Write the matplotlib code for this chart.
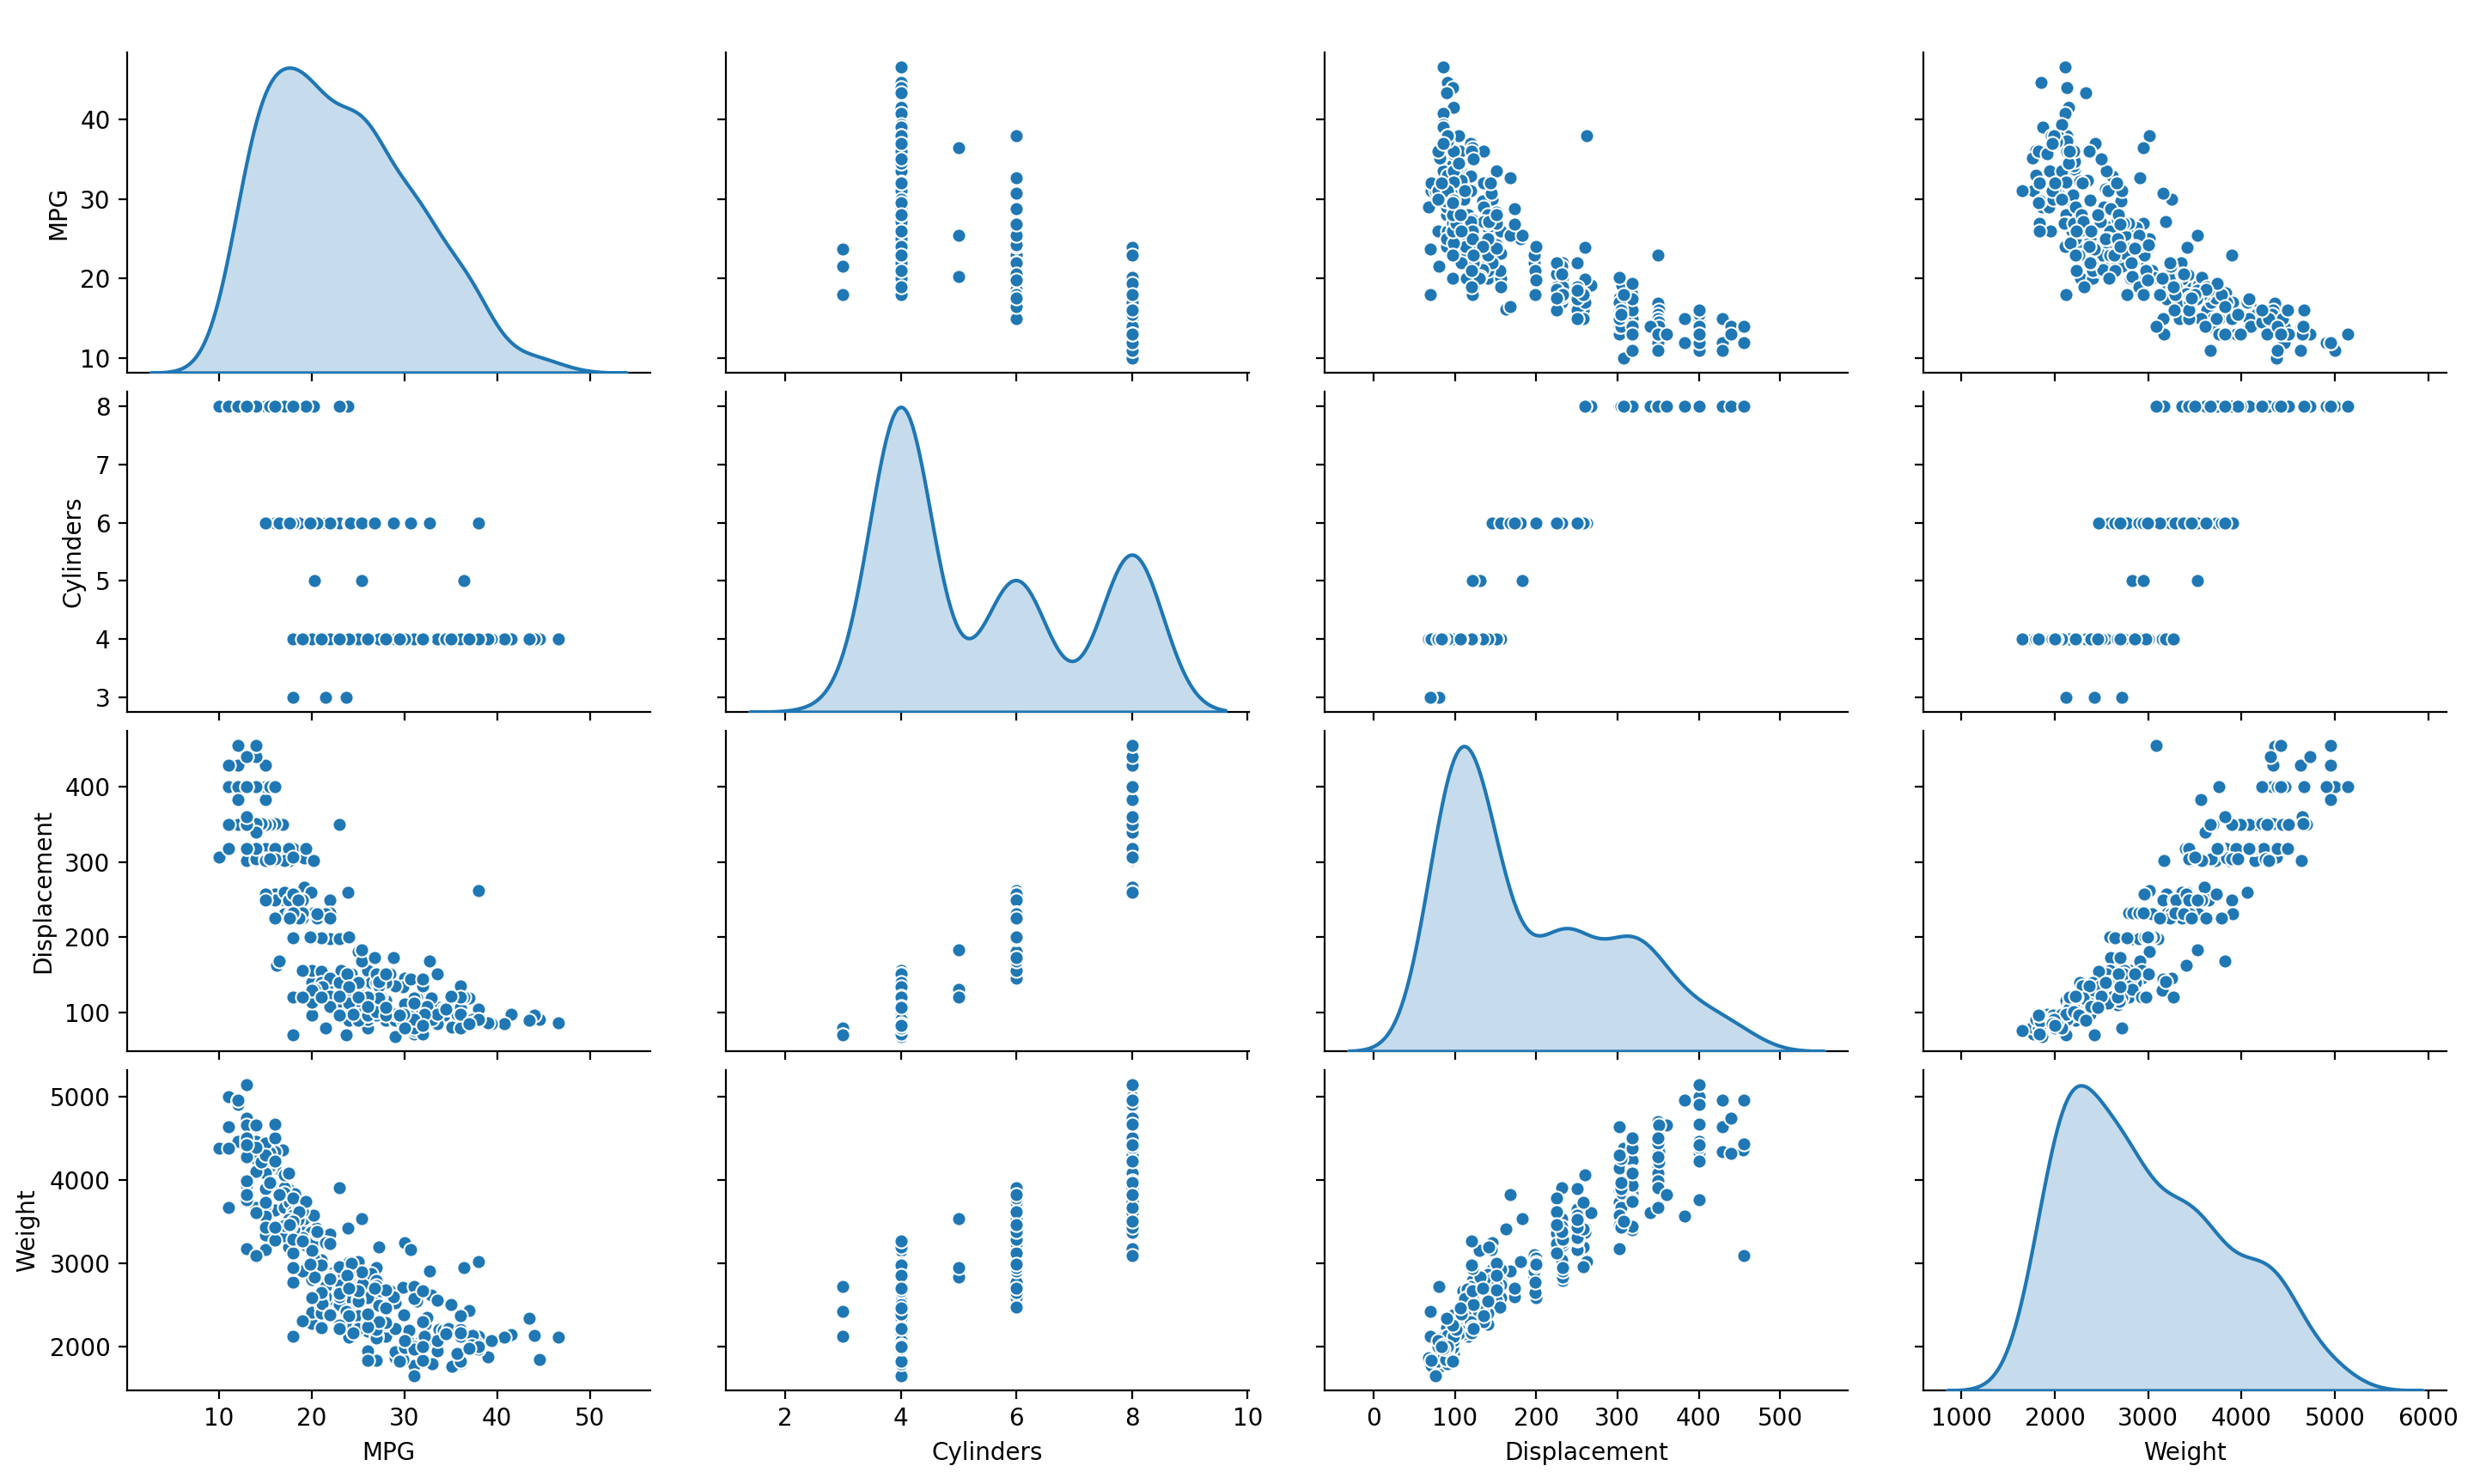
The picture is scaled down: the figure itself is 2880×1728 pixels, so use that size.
import matplotlib
matplotlib.use("Agg")
import matplotlib.pyplot as plt
import pandas as pd
import seaborn as sns

mpg = [18,15,18,16,17,15,14,14,14,15,15,14,15,14,24,22,18,21,27,26,25,24,25,26,21,10,10,11,9,27,28,25,19,16,17,19,18,14,14,14,14,12,13,13,18,22,19,18,23,28,30,30,31,35,27,26,24,25,23,20,21,13,14,15,14,17,11,13,12,13,19,15,13,13,14,18,22,21,26,22,28,23,28,27,13,14,13,14,15,12,13,13,14,13,12,13,18,16,18,18,23,26,11,12,13,12,18,20,21,22,18,19,21,26,15,16,29,24,20,19,15,24,20,11,20,19,15,31,26,32,25,16,16,18,16,13,14,14,14,29,26,26,31,32,28,24,26,24,26,31,19,18,15,15,16,15,16,14,17,16,15,18,21,20,13,29,23,20,23,24,25,24,18,29,19,23,23,22,25,33,28,25,25,26,27,17.5,16,15.5,14.5,22,22,24,22.5,29,24.5,29,33,20,18,18.5,17.5,29.5,32,28,26.5,20,13,19,19,16.5,16.5,13,13,13,31.5,30,36,25.5,33.5,17.5,17,15.5,15,17.5,20.5,19,18.5,16,15.5,15.5,16,29,24.5,26,25.5,30.5,33.5,30,30.5,22,21.5,21.5,43.1,36.1,32.8,39.4,36.1,19.9,19.4,20.2,19.2,20.5,20.2,25.1,20.5,19.4,20.6,20.8,18.6,18.1,19.2,17.7,18.1,17.5,30,27.5,27.2,30.9,21.1,23.2,23.8,23.9,20.3,17,21.6,16.2,31.5,29.5,21.5,19.8,22.3,20.2,20.6,17,17.6,16.5,18.2,16.9,15.5,19.2,18.5,31.9,34.1,35.7,27.4,25.4,23,27.2,23.9,34.2,34.5,31.8,37.3,28.4,28.8,26.8,33.5,41.5,38.1,32.1,37.2,28,26.4,24.3,19.1,34.3,29.8,31.3,37,32.2,46.6,27.9,40.8,44.3,43.4,36.4,30,44.6,33.8,29.8,32.7,23.7,35,32.4,27.2,26.6,25.8,23.5,30,39.1,39,35.1,32.3,37,37.7,34.1,34.7,34.4,29.9,33,33.7,32.4,32.9,31.6,28.1,30.7,25.4,24.2,22.4,26.6,20.2,17.6,28,27,34,31,29,27,24,36,37,31,38,36,36,36,34,38,32,38,25,38,26,22,32,36,27,27,44,32,28,31]
cylinders = [8,8,8,8,8,8,8,8,8,8, 8,8,8,8,4,6,6,6,4,4, 4,4,4,4,6,8,8,8,8,4, 4,4,6,6,6,6,6,8,8,8, 8,8,8,8,6,4,6,6,4,4, 4,4,4,4,4,4,4,4,4,4, 4,8,8,8,8,8,8,8,8,8, 3,8,8,8,8,4,4,4,4,4, 4,4,4,4,8,8,8,8,8,8, 8,8,8,8,8,8,6,6,6,6, 6,4,8,8,8,8,6,4,4,4, 3,4,6,4,8,8,4,4,4,4, 8,4,6,8,6,6,6,4,4,4, 4,6,6,6,8,8,8,8,8,4, 4,4,4,4,4,4,4,4,4,4, 6,6,6,6,8,8,8,8,6,6, 6,6,6,8,8,4,4,6,4,4, 4,4,6,4,6,4,4,4,4,4, 4,4,4,4,4,8,8,8,8,6, 6,6,6,4,4,4,4,6,6,6, 6,4,4,4,4,4,8,4,6,6, 8,8,8,8,4,4,4,4,4,8, 8,8,8,6,6,6,6,8,8,8, 8,4,4,4,4,4,4,4,4,6, 4,3,4,4,4,4,4,8,8,8, 6,6,6,4,6,6,6,6,6,6, 8,6,8,8,4,4,4,4,4,4, 4,4,5,6,4,6,4,4,6,6, 4,6,6,8,8,8,8,8,8,8, 8,4,4,4,4,5,8,4,8,4, 4,4,4,4,6,6,4,4,4,4, 4,4,4,4,6,4,4,4,4,4, 4,4,4,4,4,5,4,4,4,4, 6,3,4,4,4,4,4,6,4,4, 4,4,4,4,4,4,4,4,4,4, 4,4,4,4,4,6,6,6,6,8, 6,6,4,4,4,4,4,4,4,4, 4,4,4,4,4,4,4,4,4,4, 6,6,4,6,4,4,4,4,4,4,4,4]
displacement = [307,350,318,304,302,429,454,440,455,390,383,340,400,455,113,198,199,200,97,97,110,107,104,121,199,360,307,318,304,97,140,113,232,225,250,250,232,350,400,351,318,383,400,400,258,140,250,250,122,116,79,88,71,72,97,91,113,97.5,97,140,122,350,400,318,351,304,429,350,350,400,70,304,307,302,318,121,121,120,96,122,97,120,98,97,350,304,350,302,318,429,400,351,318,440,455,360,225,250,232,250,198,97,400,400,360,350,232,97,140,108,70,122,155,98,350,400,68,116,114,121,318,121,156,350,198,232,250,79,122,71,140,250,258,225,302,350,318,302,304,98,79,97,76,83,90,90,116,120,108,79,225,250,250,250,400,350,318,351,231,250,258,225,231,262,302,97,140,232,140,134,90,119,171,90,232,115,120,121,121,91,107,116,140,98,101,305,318,304,351,225,250,200,232,85,98,90,91,225,250,250,258,97,85,97,140,130,318,120,156,168,350,350,302,318,98,111,79,122,85,305,260,318,302,250,231,225,250,400,350,400,351,97,151,97,140,98,98,97,97,146,121,80,90,98,78,85,91,260,318,302,231,200,200,140,225,232,231,200,225,258,305,231,302,318,98,134,119,105,134,156,151,119,131,163,121,163,89,98,231,200,140,232,225,305,302,351,318,350,351,267,360,89,86,98,121,183,350,141,260,105,105,85,91,151,173,173,151,98,89,98,86,151,140,151,225,97,134,120,119,108,86,156,85,90,90,121,146,91,97,89,168,70,122,107,135,151,156,173,135,79,86,81,97,85,89,91,105,98,98,105,107,108,119,120,141,145,168,146,231,350,200,225,112,112,112,112,135,151,140,105,91,91,105,98,120,107,108,91,91,91,181,262,156,232,144,135,151,140,97,135,120,119]
weight = [3504,3693,3436,3433,3449,4341,4354,4312,4425,3850,3563,3609,3761,3086,2372,2833,2774,2587,2130,1835,2672,2430,2375,2234,2648,4615,4376,4382,4732,2130,2264,2228,2634,3439,3329,3302,3288,4209,4464,4154,4096,4955,4746,5140,2962,2408,3282,3139,2220,2123,2074,2065,1773,1613,1834,1955,2278,2126,2254,2408,2226,4274,4385,4135,4129,3672,4633,4502,4456,4422,2330,3892,4098,4294,4077,2933,2511,2979,2189,2395,2288,2506,2164,2100,4100,3672,3988,4042,3777,4952,4464,4363,4237,4735,4951,3821,3121,3278,2945,3021,2904,1950,4997,4906,4654,4499,2789,2279,2401,2379,2124,2310,2472,2265,4082,4278,1867,2158,2582,2868,3399,2660,2807,3664,3102,2901,3336,1950,2451,1836,2542,3781,3632,3613,4141,4699,4457,4638,4257,2219,1963,2300,1649,2003,2125,2108,2246,2489,2391,2000,3264,3459,3432,3158,4668,4440,4498,4657,3907,3897,3730,3785,3039,3221,3169,2171,2639,2914,2592,2702,2223,2545,2984,1937,3211,2694,2957,2945,2671,1795,2464,2220,2572,2255,2202,4215,4190,3962,4215,3233,3353,3012,3085,2035,2164,1937,1795,3651,3574,3645,3193,1825,1990,2155,2565,3150,3940,3270,2930,3820,4380,4055,3870,3755,2045,2155,1825,2300,1945,3880,4060,4140,4295,3520,3425,3630,3525,4220,4165,4325,4335,1940,2740,2265,2755,2051,2075,1985,2190,2815,2600,2720,1985,1800,1985,2070,1800,3365,3735,3570,3535,3155,2965,2720,3430,3210,3380,3070,3620,3410,3425,3445,3205,4080,2155,2560,2300,2230,2515,2745,2855,2405,2830,3140,2795,3410,1990,2135,3245,2990,2890,3265,3360,3840,3725,3955,3830,4360,4054,3605,3940,1925,1975,1915,2670,3530,3900,3190,3420,2200,2150,2020,2130,2670,2595,2700,2556,2144,1968,2120,2019,2678,2870,3003,3381,2188,2711,2542,2434,2265,2110,2800,2110,2085,2335,2950,3250,1850,2145,1845,2910,2420,2500,2290,2490,2635,2620,2725,2385,1755,1875,1760,2065,1975,2050,1985,2215,2045,2380,2190,2210,2350,2615,2635,3230,3160,2900,2930,3415,3725,3060,3465,2605,2640,2395,2575,2525,2735,2865,1980,2025,1970,2125,2125,2160,2205,2245,1965,1965,1995,3015,3015,2585,2835,2665,2370,2950,2790,2130,2295,2625,2720]

# Rows that appear in the chart, in drawing order
train_rows = [144,280,68,372,328,255,308,326,124,107,54,210,232,102,287,350,274,74,113,303,164,132,59,380,307,37,336,253,167,65,122,353,76,140,162,316,52,90,186,6,1,327,317,134,231,230,366,135,219,106,146,10,26,45,315,355,360,190,179,60,15,145,276,5,78,159,7,363,20,322,246,264,284,221,100,64,55,260,214,218,254,299,191,56,8,298,171,352,301,241,234,63,240,150,381,81,341,176,142,245,89,170,21,204,346,304,49,286,388,92,228,216,217,289,382,22,386,200,391,158,141,342,66,224,212,12,101,306,340,319,17,153,175,30,114,312,103,357,229,168,116,387,120,173,112,294,136,269,126,155,293,275,133,33,370,34,199,97,85,247,181,283,383,215,356,108,46,375,250,281,73,137,373,252,196,29,282,351,51,329,344,27,2,318,156,198,368,206,138,220,239,268,272,223,35,259,249,24,261,44,225,129,93,111,166,271,325,40,18,278,79,233,235,71,13,331,213,377,330,160,104,161,83,189,389,118,238,188,208,367,110,149,157,152,16,263,75,109,320,205,334,139,237,385,4,96,14,61,236,67,313,248,194,154,365,302,19,226,300,3,309,125,77,184,295,371,384,182,348,80,258,11,297,86,266,36,374,58,41,270,50,209,311,310,324,123,222,62,296,130,187,23,43,0,201,332,98,379,178,256,94,361,95,343,169,69,305,48,207,279,227,148,143,180]

df = pd.DataFrame({"MPG": mpg, "Cylinders": cylinders, "Displacement": displacement, "Weight": weight})
train = df.iloc[train_rows]

g = sns.pairplot(train, diag_kind="kde", plot_kws={"s": 34, "linewidth": 0.75}, diag_kws={"linewidth": 1.5})
g.figure.set_size_inches(14.4, 8.64)
g.figure.subplots_adjust(left=148 / 2880, right=2848 / 2880, top=1 - 61 / 1728, bottom=1 - 1619 / 1728, wspace=0.1445, hspace=0.059)
g.figure.savefig("out.png", dpi=200)
